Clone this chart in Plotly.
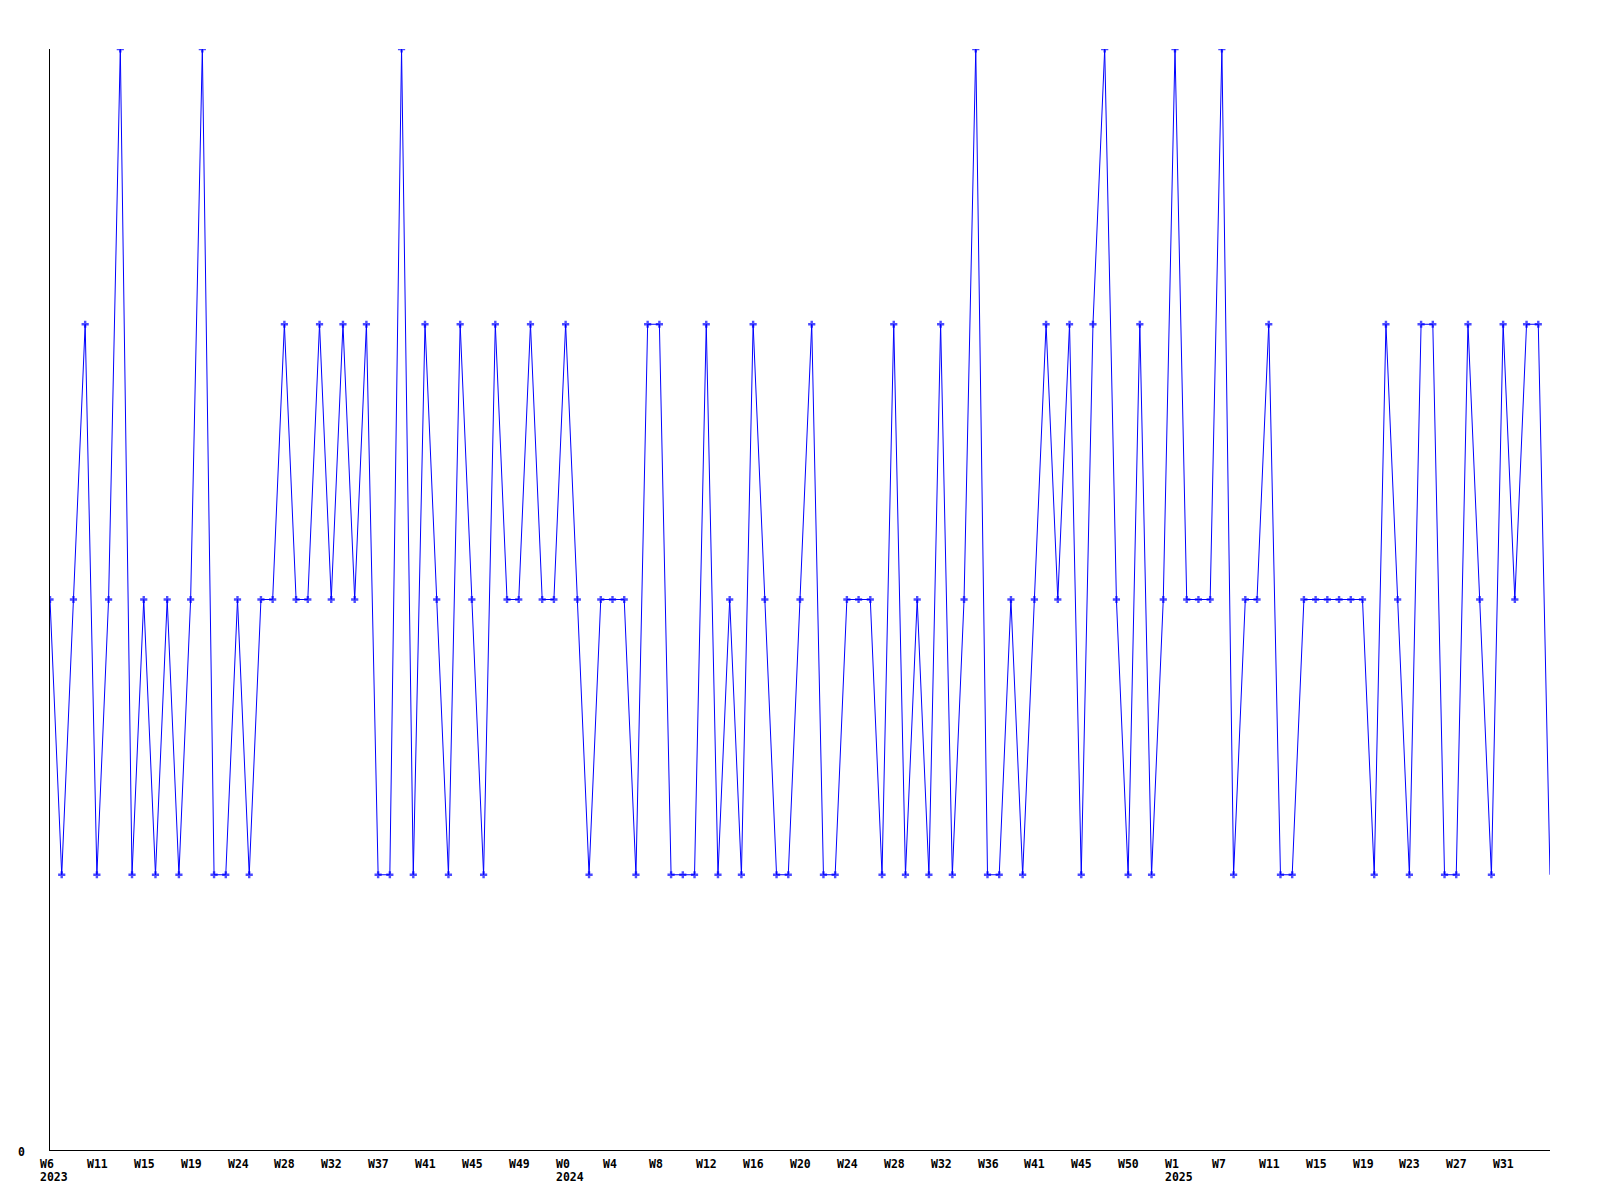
import plotly.graph_objects as go

# Series values (one per period, 129 points)
values = [
    2, 1, 2, 3, 1, 2, 4, 1, 2, 1, 2, 1, 2, 4, 1, 1, 2, 1, 2, 2,
    3, 2, 2, 3, 2, 3, 2, 3, 1, 1, 4, 1, 3, 2, 1, 3, 2, 1, 3, 2,
    2, 3, 2, 2, 3, 2, 1, 2, 2, 2, 1, 3, 3, 1, 1, 1, 3, 1, 2, 1,
    3, 2, 1, 1, 2, 3, 1, 1, 2, 2, 2, 1, 3, 1, 2, 1, 3, 1, 2, 4,
    1, 1, 2, 1, 2, 3, 2, 3, 1, 3, 4, 2, 1, 3, 1, 2, 4, 2, 2, 2,
    4, 1, 2, 2, 3, 1, 1, 2, 2, 2, 2, 2, 2, 1, 3, 2, 1, 3, 3, 1,
    1, 3, 2, 1, 3, 2, 3, 3, 1,
]

# Tick labels (every 4th point)
tick_weeks = ["W6", "W11", "W15", "W19", "W24", "W28", "W32", "W37", "W41", "W45",
              "W49", "W0", "W4", "W8", "W12", "W16", "W20", "W24", "W28", "W32",
              "W36", "W41", "W45", "W50", "W1", "W7", "W11", "W15", "W19", "W23",
              "W27", "W31"]
tick_step = 4
year_labels = {0: "2023", 44: "2024", 96: "2025"}
y_tick_label = "0"

x = list(range(len(values)))
sizes = [6] * len(values)
sizes[-1] = 0

fig = go.Figure()
fig.add_trace(go.Scatter(
    x=x, y=values, mode="lines+markers",
    line=dict(color="#0000FF", width=1),
    marker=dict(symbol="cross", size=sizes, color="#0000FF", line=dict(width=0)),
    showlegend=False, hoverinfo="skip",
))

font = dict(family="DejaVu Sans Mono", size=11.5, color="#000000", weight="bold")
annotations = []
for i, lab in enumerate(tick_weeks):
    annotations.append(dict(
        x=i * tick_step, xref="x", y=0, yref="paper", text=lab,
        showarrow=False, xanchor="left", yanchor="top", align="left",
        xshift=-11, yshift=-6, font=font, borderpad=0,
    ))
for idx, yr in year_labels.items():
    annotations.append(dict(
        x=idx, xref="x", y=0, yref="paper", text=yr,
        showarrow=False, xanchor="left", yanchor="top", align="left",
        xshift=-11, yshift=-19, font=font, borderpad=0,
    ))
annotations.append(dict(
    x=0, xref="paper", y=0, yref="y", text=y_tick_label,
    showarrow=False, xanchor="right", yanchor="middle",
    xshift=-24, yshift=-2, font=font, borderpad=0,
))

fig.update_layout(
    width=1600, height=1200,
    margin=dict(l=42, r=58, t=41, b=58),
    paper_bgcolor="white", plot_bgcolor="white",
    xaxis=dict(range=[0, len(values) - 1], showgrid=False, zeroline=False,
               showline=True, linecolor="black", linewidth=1,
               showticklabels=False, ticks=""),
    yaxis=dict(range=[0, 4], showgrid=False, zeroline=False,
               showline=True, linecolor="black", linewidth=1,
               showticklabels=False, ticks=""),
    annotations=annotations,
)

fig.write_html("out.html")
